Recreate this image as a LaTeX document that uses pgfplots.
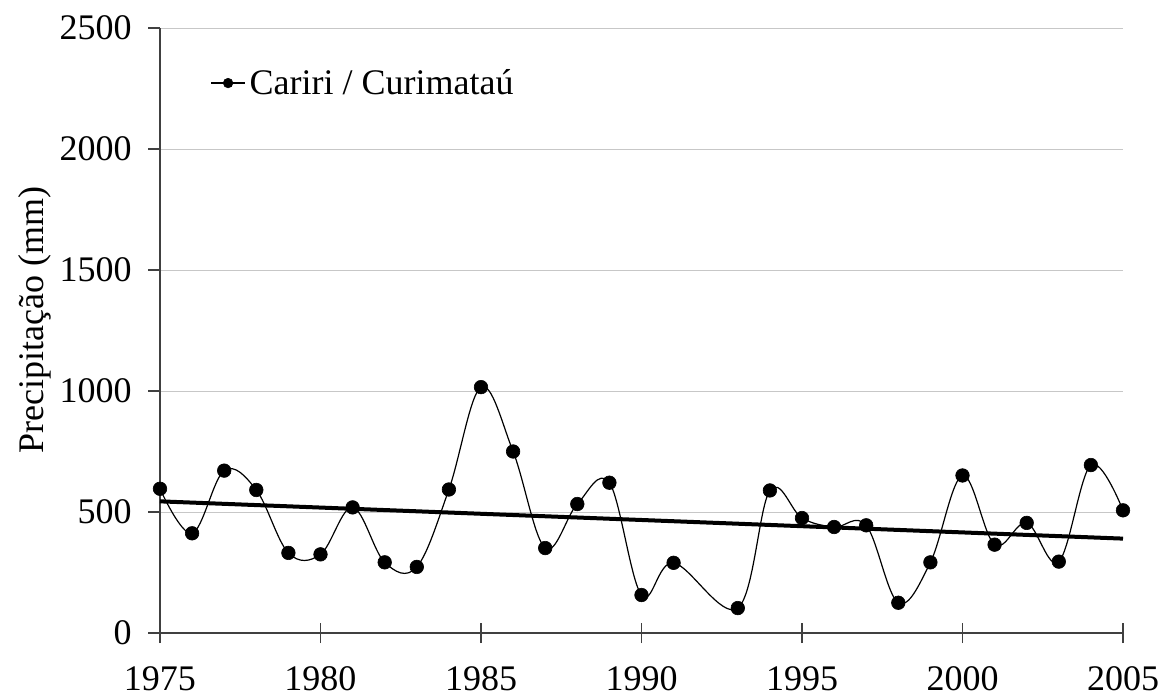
\documentclass[border=0pt]{standalone}
\usepackage{pgfplots}
\pgfplotsset{compat=1.18}
\usepackage{fontspec}
\setmainfont{Liberation Serif}
\begin{document}
\begin{tikzpicture}[font=\fontsize{18bp}{21bp}\selectfont]
\begin{axis}[
  scale only axis,
  width=481.5bp, height=302.5bp,
  xmin=1975, xmax=2005,
  ymin=0, ymax=2500,
  axis lines*=left,
  axis line style={line width=0.6bp, black!75},
  ytick={0,500,...,2500},
  xtick=\empty,
  minor xtick={1976,1977,1978,1979,1981,1982,1983,1984,1986,1987,1988,1989,1991,1992,1993,1994,1996,1997,1998,1999,2001,2002,2003,2004},
  extra x ticks={1975,1980,1985,1990,1995,2000,2005},
  extra x tick style={tick align=center, major tick length=10bp},
  extra x tick labels={1975,1980,1985,1990,1995,2000,2005},
  xtick align=outside, ytick align=outside,
  major tick length=6bp, minor tick length=4.5bp,
  tick style={line width=0.6bp, black!75},
  ymajorgrids,
  grid style={line width=0.5bp, black!22},
  /pgf/number format/assume math mode=true,
  /pgf/number format/1000 sep={},
  yticklabel style={anchor=east, inner sep=0pt, xshift=-8bp},
  xticklabel style={anchor=north, inner sep=0pt, yshift=-11.5bp},
  ylabel={Precipitação (mm)},
  every axis y label/.style={at={(axis description cs:-0.13,0.517)}, rotate=90, anchor=center},
  legend style={draw=none, fill=none, at={(axis description cs:0.052,0.909)}, anchor=west, inner sep=0pt, font=\fontsize{18bp}{21bp}\selectfont},
  legend cell align=left,
  legend image post style={mark size=2.4bp},
]
\addplot[black, line width=0.6bp, smooth, tension=0.6, mark=*, mark size=3.4bp, mark options={line width=0.3bp}] coordinates {
(1975,596) (1976,412) (1977,671) (1978,591) (1979,331) (1980,325)
(1981,519) (1982,292) (1983,273) (1984,593) (1985,1016) (1986,750)
(1987,351) (1988,533) (1989,621) (1990,157) (1991,290) (1993,103)
(1994,589) (1995,475) (1996,438) (1997,445) (1998,125) (1999,292)
(2000,651) (2001,365) (2002,455) (2003,295) (2004,694) (2005,507)
};
\addlegendentry{Cariri / Curimataú}
\addplot[black, line width=2bp, forget plot] coordinates {(1975,544) (2005,390)};
\end{axis}
\pgfresetboundingbox
\path[use as bounding box] (-80bp,-33bp) rectangle (500.5bp,316.5bp);
\end{tikzpicture}
\end{document}
